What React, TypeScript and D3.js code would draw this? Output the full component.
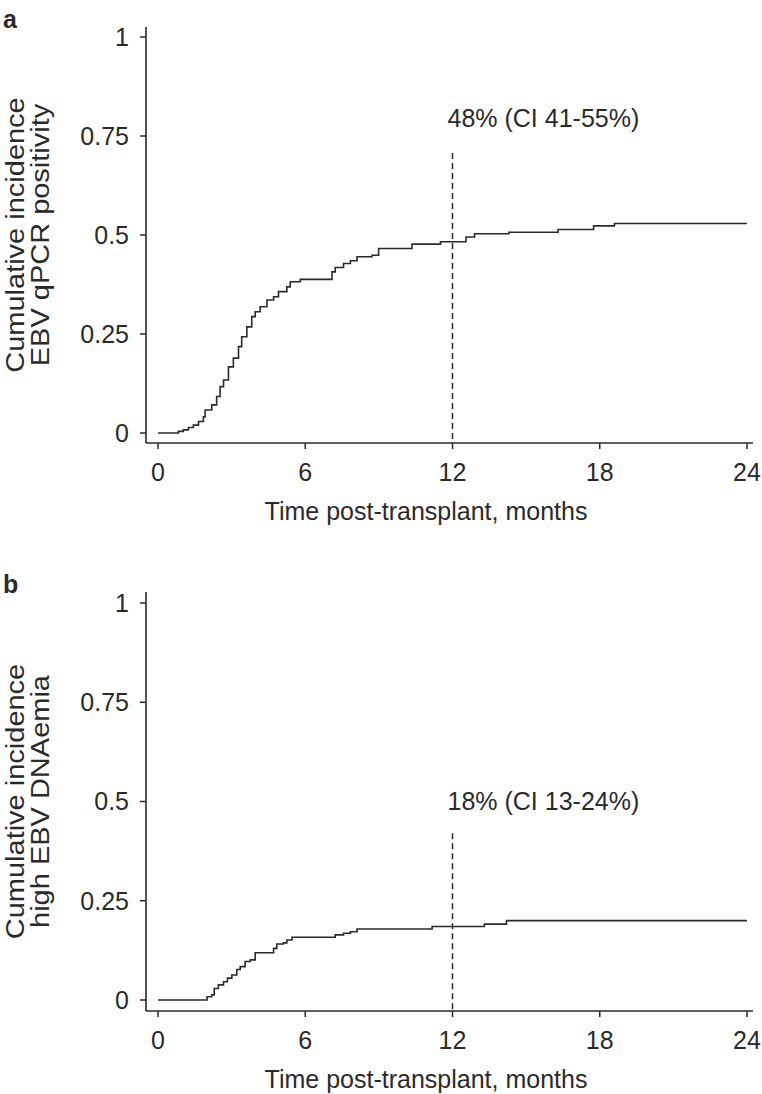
import React from "react";
import * as d3 from "d3";

// ---------- Data ----------
const xTicks = [0, 6, 12, 18, 24];
const yTicks = [0, 0.25, 0.5, 0.75, 1];
const yTickLabels = ["0", "0.25", "0.5", "0.75", "1"];

// Panel a: EBV qPCR positivity (time in months, cumulative incidence after step)
const timesA = [0, 0.83, 1.03, 1.24, 1.44, 1.65, 1.85, 1.92, 2.19, 2.39, 2.53, 2.67, 2.87, 3.07, 3.28, 3.41, 3.62, 3.82, 3.96, 4.16, 4.44, 4.71, 4.91, 5.25, 5.39, 5.8, 7.09, 7.22, 7.56, 7.84, 8.11, 8.72, 8.99, 10.35, 11.51, 12.55, 12.9, 14.3, 16.3, 17.75, 18.6, 24];
const valuesA = [0, 0.004, 0.008, 0.014, 0.02, 0.029, 0.041, 0.058, 0.071, 0.092, 0.117, 0.134, 0.167, 0.189, 0.218, 0.243, 0.268, 0.294, 0.306, 0.319, 0.336, 0.344, 0.357, 0.369, 0.382, 0.388, 0.407, 0.418, 0.428, 0.435, 0.445, 0.449, 0.466, 0.477, 0.483, 0.495, 0.503, 0.507, 0.514, 0.523, 0.529, 0.529];

// Panel b: high EBV DNAemia
const timesB = [0, 2.0, 2.19, 2.29, 2.46, 2.67, 2.83, 3.01, 3.21, 3.35, 3.55, 3.76, 3.96, 4.71, 4.84, 5.11, 5.25, 5.46, 7.22, 7.56, 7.84, 8.11, 11.17, 13.3, 14.2, 24];
const valuesB = [0, 0.008, 0.013, 0.029, 0.038, 0.046, 0.055, 0.063, 0.077, 0.084, 0.097, 0.101, 0.119, 0.13, 0.141, 0.144, 0.151, 0.158, 0.164, 0.168, 0.172, 0.179, 0.185, 0.191, 0.2, 0.2];

const panels = [
  {
    letter: "a",
    titleLines: ["Cumulative incidence", "EBV qPCR positivity"],
    annotation: "48% (CI 41-55%)",
    times: timesA,
    values: valuesA,
    yTop: 37,
    yBottom: 433,
    axisY: 443,
    axisTop: 27,
    refTop: 0.707,
    refLabel: 0.773,
    letterY: 28,
  },
  {
    letter: "b",
    titleLines: ["Cumulative incidence", "high EBV DNAemia"],
    annotation: "18% (CI 13-24%)",
    times: timesB,
    values: valuesB,
    yTop: 603,
    yBottom: 1000,
    axisY: 1011,
    axisTop: 592,
    refTop: 0.42,
    refLabel: 0.479,
    letterY: 593,
  },
];

const FONT = "'Liberation Sans', Arial, Helvetica, sans-serif";
const INK = "#2a2a2a";

function Panel({ p }: { p: (typeof panels)[number] }) {
  const x = d3.scaleLinear().domain([0, 24]).range([158, 747]);
  const y = d3.scaleLinear().domain([0, 1]).range([p.yBottom, p.yTop]);
  const axisX = 146;
  const pts: [number, number][] = p.times.map((t, i) => [t, p.values[i]]);
  const line = d3
    .line<[number, number]>()
    .x((d) => x(d[0]))
    .y((d) => y(d[1]))
    .curve(d3.curveStepAfter);
  const midY = (p.yTop + p.yBottom) / 2;
  return (
    <g fontFamily={FONT} fill={INK}>
      <text x={3} y={p.letterY} fontSize={25} fontWeight="bold">
        {p.letter}
      </text>
      {/* axes */}
      <line x1={axisX} x2={axisX} y1={p.axisTop} y2={p.axisY} stroke={INK} strokeWidth={1.6} />
      <line x1={axisX} x2={753} y1={p.axisY} y2={p.axisY} stroke={INK} strokeWidth={1.6} />
      {yTicks.map((t, i) => (
        <g key={"y" + t}>
          <line x1={axisX - 6} x2={axisX} y1={y(t)} y2={y(t)} stroke={INK} strokeWidth={1.5} />
          <text x={129} y={y(t)} dy="0.35em" textAnchor="end" fontSize={25}>
            {yTickLabels[i]}
          </text>
        </g>
      ))}
      {xTicks.map((t) => (
        <g key={"x" + t}>
          <line x1={x(t)} x2={x(t)} y1={p.axisY} y2={p.axisY + 6} stroke={INK} strokeWidth={1.5} />
          <text x={x(t)} y={p.axisY + 38} textAnchor="middle" fontSize={25}>
            {t}
          </text>
        </g>
      ))}
      <text x={426} y={p.axisY + 77} textAnchor="middle" fontSize={25}>
        Time post-transplant, months
      </text>
      {p.titleLines.map((s, i) => (
        <text
          key={s}
          transform={`translate(${24 + i * 25},${midY}) rotate(-90) scale(1,0.88)`}
          textAnchor="middle"
          fontSize={29}
        >
          {s}
        </text>
      ))}
      {/* reference line at 12 months */}
      <line
        x1={x(12)}
        x2={x(12)}
        y1={y(p.refTop)}
        y2={p.axisY}
        stroke={INK}
        strokeWidth={1.5}
        strokeDasharray="6,4"
      />
      <text x={x(12) - 5} y={y(p.refLabel)} fontSize={25}>
        {p.annotation}
      </text>
      <path d={line(pts) || ""} fill="none" stroke={INK} strokeWidth={1.6} />
    </g>
  );
}

export default function App() {
  return (
    <svg
      width={762}
      height={1094}
      style={{ position: "absolute", left: 0, top: 0, background: "#fff" }}
    >
      <rect width={762} height={1094} fill="#fff" />
      {panels.map((p) => (
        <Panel key={p.letter} p={p} />
      ))}
    </svg>
  );
}
